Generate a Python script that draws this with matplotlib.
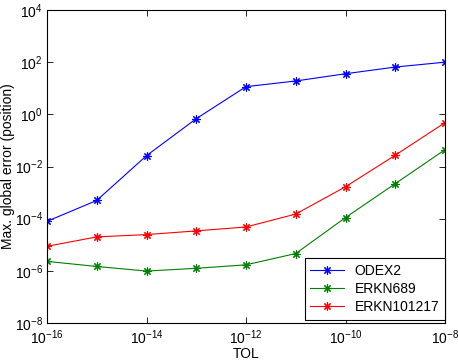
import numpy as np
import matplotlib
matplotlib.use("Agg")
import matplotlib.pyplot as plt
from matplotlib.ticker import FixedLocator, NullLocator

plt.rcParams['font.family'] = ['Liberation Sans', 'DejaVu Sans']
plt.rcParams['mathtext.fontset'] = 'custom'
plt.rcParams['mathtext.rm'] = 'Liberation Sans'
plt.rcParams['mathtext.it'] = 'Liberation Sans'

# tolerances and max global errors
tol = [1e-16, 1e-15, 1e-14, 1e-13, 1e-12, 1e-11, 1e-10, 1e-9, 1e-8]
odex2 = [7.9e-5, 5e-4, 2.6e-2, 0.68, 11.5, 19, 36, 65, 100]
erkn689 = [2.3e-6, 1.47e-6, 9.8e-7, 1.25e-6, 1.7e-6, 4.6e-6, 1.1e-4, 2.2e-3, 4.4e-2]
erkn101217 = [8.7e-6, 2.0e-5, 2.45e-5, 3.4e-5, 4.8e-5, 1.5e-4, 1.67e-3, 2.7e-2, 0.48]

xticks = [1e-16, 1e-14, 1e-12, 1e-10, 1e-8]
yticks = [1e-8, 1e-6, 1e-4, 1e-2, 1e0, 1e2, 1e4]

fig = plt.figure(figsize=(4.58, 3.6), dpi=100)
ax = fig.add_axes([47 / 458, 37 / 360, 398 / 458, 313 / 360])

star = (8, 2, 0)  # matlab style asterisk
ax.loglog(tol, odex2, '-', marker=star, color=(0, 0, 1), lw=0.8, ms=6, mew=0.8, label='ODEX2')
ax.loglog(tol, erkn689, '-', marker=star, color=(0, 0.5, 0), lw=0.8, ms=6, mew=0.8, label='ERKN689')
ax.loglog(tol, erkn101217, '-', marker=star, color=(1, 0, 0), lw=0.8, ms=6, mew=0.8, label='ERKN101217')

ax.set_xlim(1e-16, 1e-8)
ax.set_ylim(1e-8, 1e4)
ax.xaxis.set_major_locator(FixedLocator(xticks))
ax.yaxis.set_major_locator(FixedLocator(yticks))
ax.xaxis.set_minor_locator(NullLocator())
ax.yaxis.set_minor_locator(NullLocator())
ax.tick_params(direction='in', top=True, right=True, length=4, width=0.6, labelsize=10, pad=3)
ax.tick_params(axis='x', pad=4)
for s in ax.spines.values():
    s.set_linewidth(0.8)

ax.set_xlabel('TOL', fontsize=10, labelpad=0)
ax.set_ylabel('Max. global error (position)', fontsize=10, labelpad=0)

leg = ax.legend(loc='lower right', bbox_to_anchor=(1.0, 0.01), fontsize=10, fancybox=False,
                edgecolor='black', framealpha=1, borderaxespad=0, handlelength=2.4,
                labelspacing=0.3)
leg.get_frame().set_linewidth(0.8)

fig.savefig('out.png', dpi=100)
